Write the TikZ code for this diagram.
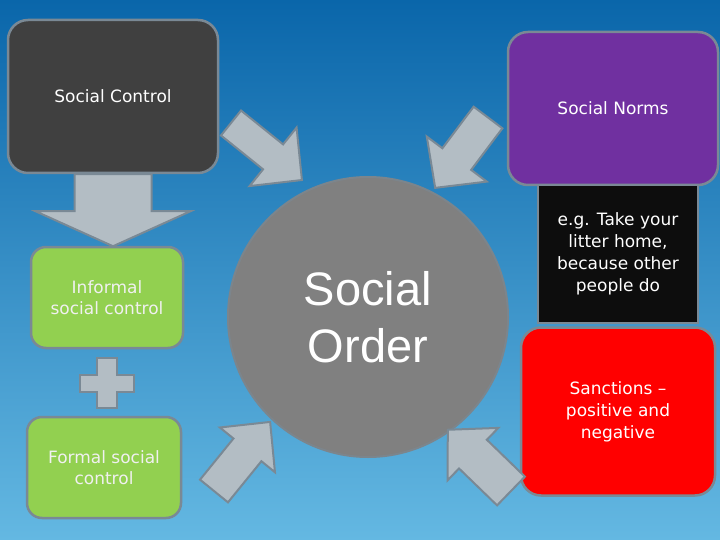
\documentclass[tikz,border=0pt]{standalone}
\usepackage{fontspec}
\setmainfont{DejaVu Sans}
\newfontfamily\orderfont{Liberation Sans}
\usepackage{tikz}
\usetikzlibrary{positioning,calc}

\definecolor{bgtop}{HTML}{0A66AA}
\definecolor{bgbot}{HTML}{64B8E2}
\definecolor{edgegray}{HTML}{7A8995}
\definecolor{arrowfill}{HTML}{B3BDC4}
\definecolor{ctrlgray}{HTML}{404040}
\definecolor{normpurple}{HTML}{7030A0}
\definecolor{egblack}{HTML}{0D0D0D}
\definecolor{ctrlgreen}{HTML}{92D050}
\definecolor{sancred}{HTML}{FF0000}
\definecolor{ordergray}{HTML}{808080}

\begin{document}
\begin{tikzpicture}[x=1pt, y=-1pt,
  box/.style={rectangle, draw=edgegray, line width=2.5pt, rounded corners=20pt, inner sep=0pt, text=white, align=center, font=\fontsize{17}{22}\selectfont},
  greenbox/.style={box, fill=ctrlgreen, rounded corners=15pt, minimum height=101pt, text=white!94!black, font=\fontsize{17}{21}\selectfont},
  orderball/.style={circle, fill=ordergray, draw=edgegray!60!gray, line width=2pt, minimum size=280pt, inner sep=0pt, text=white, align=center, font=\orderfont\fontsize{47}{57}\selectfont},
  arrowbody/.style={fill=arrowfill, draw=edgegray, line width=2pt, line join=miter},
  pics/blockarrow/.style n args={4}{code={
    \draw[arrowbody] (0,-#2) -- (#1-#4,-#2) -- (#1-#4,-#3) -- (#1,0) -- (#1-#4,#3) -- (#1-#4,#2) -- (0,#2) -- cycle;
  }}]

  % Background
  \useasboundingbox (0,0) rectangle (720,540);
  \fill [top color=bgtop, bottom color=bgbot] (0,0) rectangle (720,540);

  % Left column: control boxes
  \node [box, fill=ctrlgray, minimum width=210pt, minimum height=153pt] (ctrl) at (113,96.5) {Social Control};
  \node [greenbox, minimum width=152pt] (informal) at (107,297.5) {Informal\\social control};
  \node [greenbox, minimum width=154pt] (formal) at (104,467.5) {Formal social\\control};

  % Centre: the circle
  \node [orderball] (order) at (368,317) {Social\\Order};

  % Right column: norms, example, sanctions
  \node [box, fill=normpurple, minimum width=210pt, minimum height=153pt] (norms) at (613,108.5) {Social Norms};
  \node [box, fill=egblack, rounded corners=0pt, minimum width=160pt, minimum height=138pt] (eg) at (618,254) {e.g. Take your\\litter home,\\because other\\people do};
  \node [box, fill=sancred, minimum width=194pt, minimum height=168pt, below=2pt of eg] (sanc) {Sanctions --\\positive and\\negative};

  % Block arrows
  \pic [rotate=-90] at (ctrl.south) {blockarrow={72}{38.5}{77.5}{35}};
  \pic [rotate=-38.8] at (231,123) {blockarrow={91}{16}{37.5}{37}};
  \pic [rotate=-126.9] at (488,117.5) {blockarrow={88}{18}{37.5}{36}};
  \pic [rotate=50.9] at (214,491) {blockarrow={89}{18}{35.5}{36}};
  \pic [rotate=135.9] at (511,491) {blockarrow={88}{20}{36.5}{35}};

  % Plus sign
  \begin{scope}[shift={(107,383)}]
    \draw [arrowbody] (-10,-25) -- (10,-25) -- (10,-8.5) -- (27,-8.5) -- (27,8.5) -- (10,8.5) -- (10,25) -- (-10,25) -- (-10,8.5) -- (-27,8.5) -- (-27,-8.5) -- (-10,-8.5) -- cycle;
  \end{scope}
\end{tikzpicture}
\end{document}
